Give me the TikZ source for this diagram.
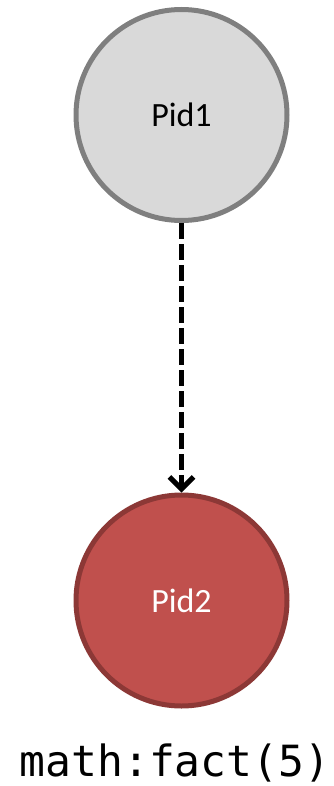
\documentclass[tikz,border=0pt]{standalone}
\usepackage{fontspec}
\setsansfont{Carlito}
\newfontfamily\codefont{DejaVu Sans Mono}
\usetikzlibrary{arrows.meta}

\definecolor{pidgray}{HTML}{D9D9D9}
\definecolor{pidgrayline}{HTML}{7F7F7F}
\definecolor{pidred}{HTML}{C0504D}
\definecolor{pidredline}{HTML}{8C3836}

\begin{document}
\begin{tikzpicture}[
		x=1pt,
		y=-1pt,
		font=\sffamily\fontsize{34}{40}\selectfont,
		proc/.style={circle, line width=5pt, minimum size=211pt, inner sep=0pt},
		msg/.style={line width=5pt, dash pattern=on 16pt off 5pt,
				-{Straight Barb[length=12pt, width=24pt, line width=5pt]}}
	]
	\useasboundingbox (0,0) rectangle (333,786);

	% ---- processos -------------------------------------------------
	\node[proc, fill=pidgray, draw=pidgrayline] (pid1) at (181.5,115) {Pid1};
	\node[proc, fill=pidred, draw=pidredline, text=white] (pid2) at (181.5,600.5) {Pid2};

	% ---- mensagem --------------------------------------------------
	\draw[msg] (pid1) -- (pid2);

	% ---- chamada ---------------------------------------------------
	\node[anchor=base, font=\codefont\fontsize{43}{50}\selectfont] (call) at (175,776) {math:fact(5)};
\end{tikzpicture}
\end{document}
